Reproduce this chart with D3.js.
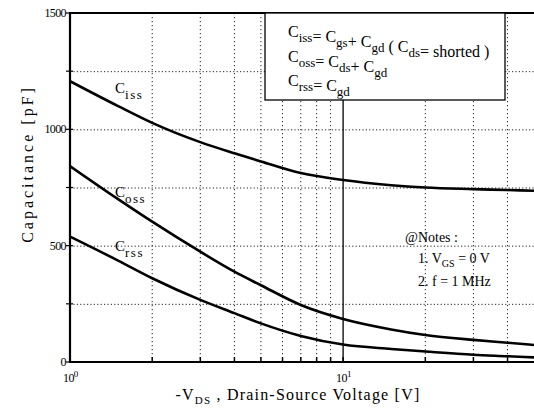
<!DOCTYPE html>
<html>
<head>
<meta charset="utf-8">
<script src="https://cdn.jsdelivr.net/npm/d3@7"></script>
<style>
body { margin: 0; background: #fff; }
</style>
</head>
<body>
<svg id="cap-svg" width="534" height="416"></svg>
<script>
// values
var vds  = [1, 1.5, 2, 3, 4, 5, 7, 10, 15, 20, 30, 40, 50];
var ciss = [1207, 1100, 1028, 945, 897, 862, 812, 782, 760, 750, 743, 739, 736];
var coss = [842, 700, 603, 474, 388, 330, 245, 185, 140, 116, 95, 83, 73];
var crss = [539, 436, 360, 267, 210, 166, 112, 75, 56, 45, 31, 25, 20];

var xGrid = [2, 3, 4, 5, 6, 7, 8, 9, 20, 30, 40];
var yTicks = [0, 250, 500, 750, 1000, 1250, 1500];
var yLabels = [0, 500, 1000, 1500];
var xLabels = [{v: 1, exp: "0"}, {v: 10, exp: "1"}];

function build_chart()
{
    var svg = d3.select("#cap-svg")
        .attr("font-family", "Liberation Serif, serif");
    var left = 70, right = 534, top = 13, bottom = 362;

    var x = d3.scaleLog().domain([1, 50]).range([left, right]);
    var y = d3.scaleLinear().domain([0, 1500]).range([bottom, top]);

    svg.append("clipPath").attr("id", "plot-clip")
        .append("rect")
        .attr("x", left).attr("y", top)
        .attr("width", right - left).attr("height", bottom - top);

    // dotted grid
    var grid = svg.append("g");
    grid.selectAll("line.gx")
        .data(xGrid)
        .enter().append("line")
        .attr("x1", function(d) { return x(d); })
        .attr("x2", function(d) { return x(d); })
        .attr("y1", top).attr("y2", bottom)
        .attr("stroke", "#222").attr("stroke-width", 1)
        .attr("stroke-dasharray", "1.2,2.8");
    grid.selectAll("line.gy")
        .data(yTicks.slice(1, -1))
        .enter().append("line")
        .attr("x1", left).attr("x2", right)
        .attr("y1", function(d) { return y(d) + 0.5; })
        .attr("y2", function(d) { return y(d) + 0.5; })
        .attr("stroke", "#222").attr("stroke-width", 1)
        .attr("stroke-dasharray", "1.2,2.2");
    // 10 V line is solid
    grid.append("line")
        .attr("x1", x(10)).attr("x2", x(10))
        .attr("y1", top).attr("y2", bottom)
        .attr("stroke", "#000").attr("stroke-width", 1.3);

    // curves
    var line = d3.line()
        .x(function(d) { return x(d[0]); })
        .y(function(d) { return y(d[1]); })
        .curve(d3.curveMonotoneX);

    [ciss, coss, crss].forEach(function(s) {
        svg.append("path")
            .attr("d", line(d3.zip(vds, s)))
            .attr("clip-path", "url(#plot-clip)")
            .attr("fill", "none")
            .attr("stroke", "#000")
            .attr("stroke-width", 2.6);
    });

    // frame
    svg.append("line").attr("x1", left).attr("x2", left)
        .attr("y1", top - 1).attr("y2", bottom + 1)
        .attr("stroke", "#000").attr("stroke-width", 2.2);
    svg.append("line").attr("x1", left - 1).attr("x2", 534)
        .attr("y1", bottom).attr("y2", bottom)
        .attr("stroke", "#000").attr("stroke-width", 2.2);
    svg.append("line").attr("x1", left - 1).attr("x2", 534)
        .attr("y1", top).attr("y2", top)
        .attr("stroke", "#000").attr("stroke-width", 2);

    // ticks
    svg.selectAll("line.ty")
        .data(yTicks)
        .enter().append("line")
        .attr("x1", left - 4).attr("x2", left + 3)
        .attr("y1", function(d) { return y(d); })
        .attr("y2", function(d) { return y(d); })
        .attr("stroke", "#000").attr("stroke-width", 1.2);
    svg.selectAll("line.tx")
        .data(xGrid.concat([10]))
        .enter().append("line")
        .attr("x1", function(d) { return x(d); })
        .attr("x2", function(d) { return x(d); })
        .attr("y1", bottom).attr("y2", bottom - 5)
        .attr("stroke", "#000").attr("stroke-width", 1.5);

    svg.selectAll("text.yl")
        .data(yLabels)
        .enter().append("text")
        .attr("x", left - 4)
        .attr("y", function(d) { return y(d) + 4; })
        .attr("text-anchor", "end")
        .style("font-size", "12px")
        .style("letter-spacing", "-0.6px")
        .text(function(d) { return d; });

    var xl = svg.selectAll("text.xl")
        .data(xLabels)
        .enter().append("text")
        .attr("x", function(d) { return x(d.v) - 7; })
        .attr("y", 382)
        .style("font-size", "12px")
        .style("letter-spacing", "-0.6px");
    xl.append("tspan").text("10");
    xl.append("tspan").attr("dy", -5).style("font-size", "9px")
        .text(function(d) { return d.exp; });

    // axis titles
    var xt = svg.append("text")
        .attr("x", 298).attr("y", 400)
        .attr("text-anchor", "middle")
        .style("font-size", "16px")
        .style("letter-spacing", "1.2px");
    xt.append("tspan").text("-V");
    xt.append("tspan").attr("dy", 4).style("font-size", "11px").text("DS");
    xt.append("tspan").attr("dy", -4).text(" ,  Drain-Source Voltage [V]");

    svg.append("text")
        .attr("transform", "translate(33,164) rotate(-90)")
        .attr("text-anchor", "middle")
        .style("font-size", "16px")
        .style("letter-spacing", "3px")
        .text("Capacitance  [pF]");

    // curve labels
    function csub(gx, gy, sub, size)
    {
        var t = svg.append("text").attr("x", gx).attr("y", gy)
            .style("font-size", size + "px");
        t.append("tspan").text("C");
        t.append("tspan").attr("dy", 6).style("font-size", (size - 2) + "px")
            .style("letter-spacing", "1.5px").text(sub);
        return t;
    }
    csub(115, 93, "iss", 15);
    csub(115, 197, "oss", 15);
    csub(115, 251, "rss", 15);

    // formula box
    svg.append("rect")
        .attr("x", 265).attr("y", top)
        .attr("width", 240).attr("height", 100 - top)
        .attr("fill", "#fff").attr("stroke", "#000").attr("stroke-width", 1.3);

    var rows = [
        [["C", "iss"], ["= C", "gs"], ["+ C", "gd"], ["  ( C", "ds"], ["= shorted )", ""]],
        [["C", "oss"], ["= C", "ds"], ["+ C", "gd"]],
        [["C", "rss"], ["= C", "gd"]]
    ];
    rows.forEach(function(r, i) {
        var t = svg.append("text").attr("x", 288).attr("y", 37 + i * 24.5)
            .style("font-size", "16px");
        r.forEach(function(p) {
            t.append("tspan").text(p[0]);
            if (p[1]) {
                t.append("tspan").attr("dy", 5).style("font-size", "13px").text(p[1]);
                t.append("tspan").attr("dy", -5).text("");
            }
        });
    });

    // notes
    svg.append("text").attr("x", 405).attr("y", 242)
        .style("font-size", "14px").text("@Notes :");
    var n1 = svg.append("text").attr("x", 418).attr("y", 263)
        .style("font-size", "14px");
    n1.append("tspan").text("1.  V");
    n1.append("tspan").attr("dy", 4).style("font-size", "10px").text("GS");
    n1.append("tspan").attr("dy", -4).text(" = 0  V");
    svg.append("text").attr("x", 418).attr("y", 286)
        .style("font-size", "14px").text("2.  f = 1  MHz");
}

build_chart();
</script>
</body>
</html>
